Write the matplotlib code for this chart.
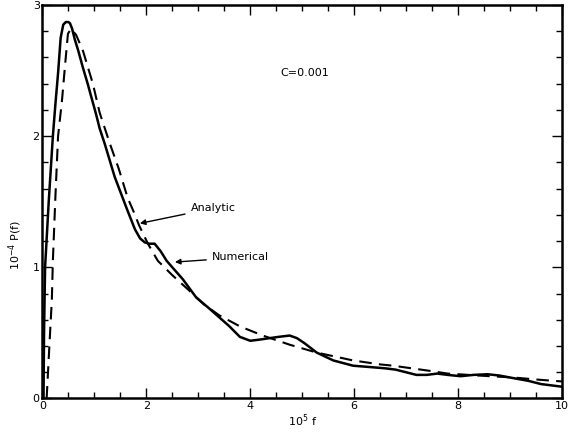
import matplotlib
matplotlib.use("Agg")
import matplotlib.pyplot as plt
from matplotlib.ticker import MultipleLocator

# Numerical (solid) curve: 10^5 f vs 10^-4 P(f)
num_x = [0.0, 0.02, 0.03, 0.05, 0.12, 0.2, 0.25, 0.3, 0.35, 0.4, 0.45, 0.5, 0.53,
         0.57, 0.62, 0.69, 0.78, 0.87, 0.96, 1.03, 1.1, 1.2, 1.39, 1.63, 1.78, 1.88,
         1.97, 2.06, 2.16, 2.28, 2.39, 2.5, 2.7, 2.96, 3.2, 3.4, 3.6, 3.8, 4.0, 4.2, 4.37,
         4.55, 4.76, 4.9, 5.05, 5.28, 5.6, 5.98, 6.3, 6.6, 6.8, 7.0, 7.2, 7.4, 7.6, 7.8,
         8.05, 8.3, 8.57, 8.8, 9.07, 9.35, 9.6, 9.8, 10.0]
num_y = [0.0, 0.0, 0.5, 1.0, 1.5, 2.0, 2.25, 2.48, 2.75, 2.85, 2.87, 2.87, 2.86,
         2.82, 2.74, 2.65, 2.52, 2.40, 2.27, 2.17, 2.06, 1.94, 1.69, 1.44, 1.29, 1.22,
         1.19, 1.18, 1.18, 1.12, 1.05, 1.0, 0.91, 0.77, 0.69, 0.62, 0.55, 0.47, 0.44, 0.45, 0.46,
         0.47, 0.48, 0.46, 0.42, 0.35, 0.29, 0.25, 0.24, 0.23, 0.22, 0.20, 0.18, 0.18, 0.19, 0.18,
         0.17, 0.18, 0.185, 0.175, 0.155, 0.135, 0.11, 0.10, 0.09]

# Analytic (dashed) curve
ana_x = [0.08, 0.13, 0.18, 0.2, 0.25, 0.3, 0.375, 0.43, 0.49, 0.55, 0.65, 0.78, 0.97,
         1.1, 1.3, 1.47, 1.64, 1.76, 1.86, 2.03, 2.22, 2.5, 2.82, 3.1, 3.4, 3.8, 4.24, 4.76,
         5.28, 5.98, 6.5, 6.75, 7.47, 7.8, 8.4, 9.07, 9.5, 10.0]
ana_y = [0.0, 0.38, 0.75, 1.05, 1.55, 2.0, 2.27, 2.52, 2.78, 2.82, 2.77, 2.65, 2.40,
         2.18, 1.94, 1.75, 1.53, 1.42, 1.32, 1.18, 1.05, 0.94, 0.825, 0.72, 0.635, 0.55, 0.48, 0.41,
         0.35, 0.29, 0.26, 0.25, 0.21, 0.19, 0.175, 0.16, 0.145, 0.13]

x_ticks = [0, 2, 4, 6, 8, 10]
y_ticks = [0, 1, 2, 3]

fig = plt.figure(figsize=(5.71, 4.34), dpi=100)
ax = fig.add_axes([0.0744, 0.0818, 0.9096, 0.9067])

ax.plot(num_x, num_y, color="black", lw=1.8, solid_joinstyle="round")
ax.plot(ana_x, ana_y, color="black", lw=1.5, linestyle=(0, (6, 3.5)))

ax.set_xlim(0, 10)
ax.set_ylim(0, 3)
ax.set_xticks(x_ticks)
ax.set_yticks(y_ticks)
ax.set_xticklabels([str(v) for v in x_ticks])
ax.set_yticklabels([str(v) for v in y_ticks])
ax.xaxis.set_minor_locator(MultipleLocator(0.5))
ax.yaxis.set_minor_locator(MultipleLocator(0.2))
ax.tick_params(which="both", direction="in", top=True, right=True, width=1.0)
ax.tick_params(which="major", length=7, labelsize=8, pad=2)
ax.tick_params(which="minor", length=4)
for s in ax.spines.values():
    s.set_linewidth(1.8)

ax.set_xlabel("10$^5$ f", fontsize=8, labelpad=1)
ax.set_ylabel("10$^{-4}$ P(f)", fontsize=8)
ax.yaxis.set_label_coords(-0.035, 0.39)

ax.text(5.05, 2.48, "C=0.001", fontsize=8, ha="center", va="center")

ax.annotate("Analytic", xy=(1.875, 1.335), xytext=(2.85, 1.45),
            fontsize=8, ha="left", va="center",
            arrowprops=dict(arrowstyle="-|>", color="black", lw=1.0,
                            mutation_scale=8, shrinkA=2, shrinkB=0))
ax.annotate("Numerical", xy=(2.55, 1.04), xytext=(3.26, 1.075),
            fontsize=8, ha="left", va="center",
            arrowprops=dict(arrowstyle="-|>", color="black", lw=1.0,
                            mutation_scale=8, shrinkA=2, shrinkB=0))

fig.savefig("out.png", dpi=100)
